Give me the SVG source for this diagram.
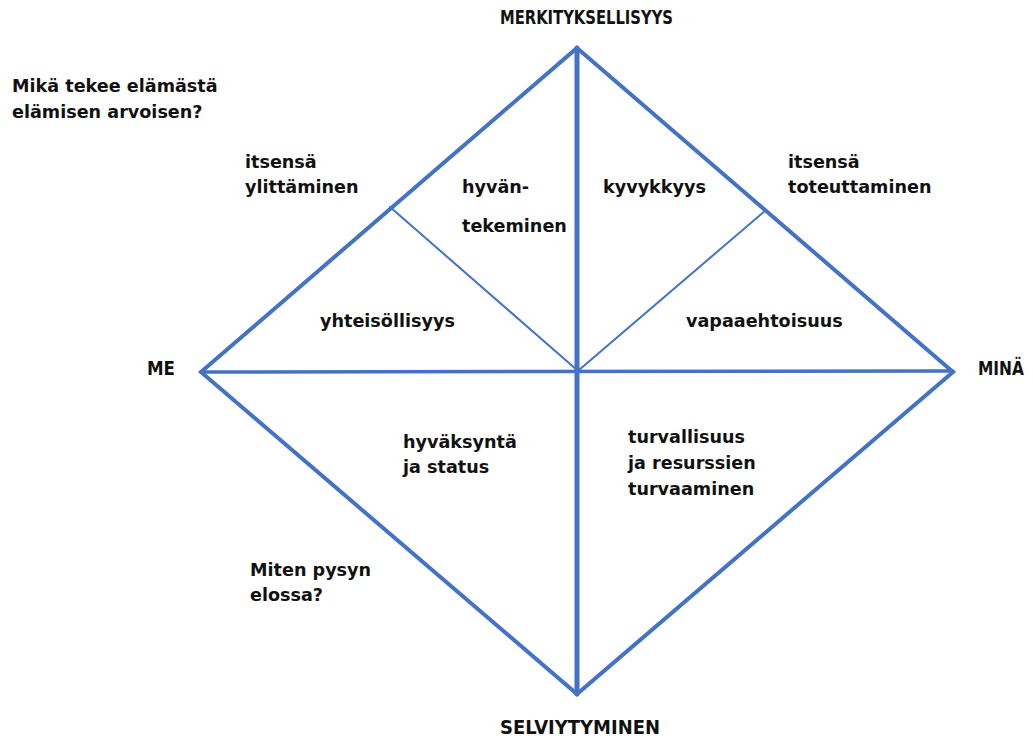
<svg xmlns="http://www.w3.org/2000/svg" width="1033" height="740" viewBox="0 0 1033 740">
<style>
.t{font-family:"DejaVu Sans","Liberation Sans",sans-serif;font-weight:bold;font-size:17.6px;fill:#111}
.cap{font-size:19px}
.ln{stroke:#4472C4;fill:none;stroke-linecap:round;stroke-linejoin:miter}
</style>
<rect width="1033" height="740" fill="#fff"/>
<g id="connectors">
<polygon class="ln" points="577,48 953,372 577,694 201,372" stroke-width="4"/>
<line class="ln" x1="577" y1="48" x2="577" y2="694" stroke-width="5"/>
<line class="ln" x1="201" y1="372" x2="953" y2="371" stroke-width="3.5"/>
<line class="ln" x1="390" y1="207" x2="577" y2="370" stroke-width="2"/>
<line class="ln" x1="766" y1="210" x2="579" y2="370" stroke-width="2"/>
</g>
<g id="n-top"><text class="t cap" x="500" y="24" textLength="173" lengthAdjust="spacingAndGlyphs">MERKITYKSELLISYYS</text></g>
<g id="n-bottom"><text class="t cap" x="500" y="734" textLength="160" lengthAdjust="spacingAndGlyphs">SELVIYTYMINEN</text></g>
<g id="n-left"><text class="t cap" x="147" y="375" textLength="28" lengthAdjust="spacingAndGlyphs">ME</text></g>
<g id="n-right"><text class="t cap" x="978" y="375" textLength="46" lengthAdjust="spacingAndGlyphs">MINÄ</text></g>
<g id="q-top"><text class="t" x="12" y="92">Mikä tekee elämästä</text><text class="t" x="12" y="118">elämisen arvoisen?</text></g>
<g id="q-bottom"><text class="t" x="250" y="576">Miten pysyn</text><text class="t" x="250" y="601">elossa?</text></g>
<g id="ylittaminen"><text class="t" x="245" y="168">itsensä</text><text class="t" x="245" y="193">ylittäminen</text></g>
<g id="toteuttaminen"><text class="t" x="788" y="168">itsensä</text><text class="t" x="788" y="193">toteuttaminen</text></g>
<g id="hyvantekeminen"><text class="t" x="462" y="193">hyvän-</text><text class="t" x="462" y="232">tekeminen</text></g>
<g id="kyvykkyys"><text class="t" x="603" y="193">kyvykkyys</text></g>
<g id="yhteisollisyys"><text class="t" x="320" y="327">yhteisöllisyys</text></g>
<g id="vapaaehtoisuus"><text class="t" x="686" y="327">vapaaehtoisuus</text></g>
<g id="hyvaksynta"><text class="t" x="403" y="448">hyväksyntä</text><text class="t" x="403" y="473">ja status</text></g>
<g id="turvallisuus"><text class="t" x="628" y="443">turvallisuus</text><text class="t" x="628" y="469">ja resurssien</text><text class="t" x="628" y="495">turvaaminen</text></g>
</svg>
